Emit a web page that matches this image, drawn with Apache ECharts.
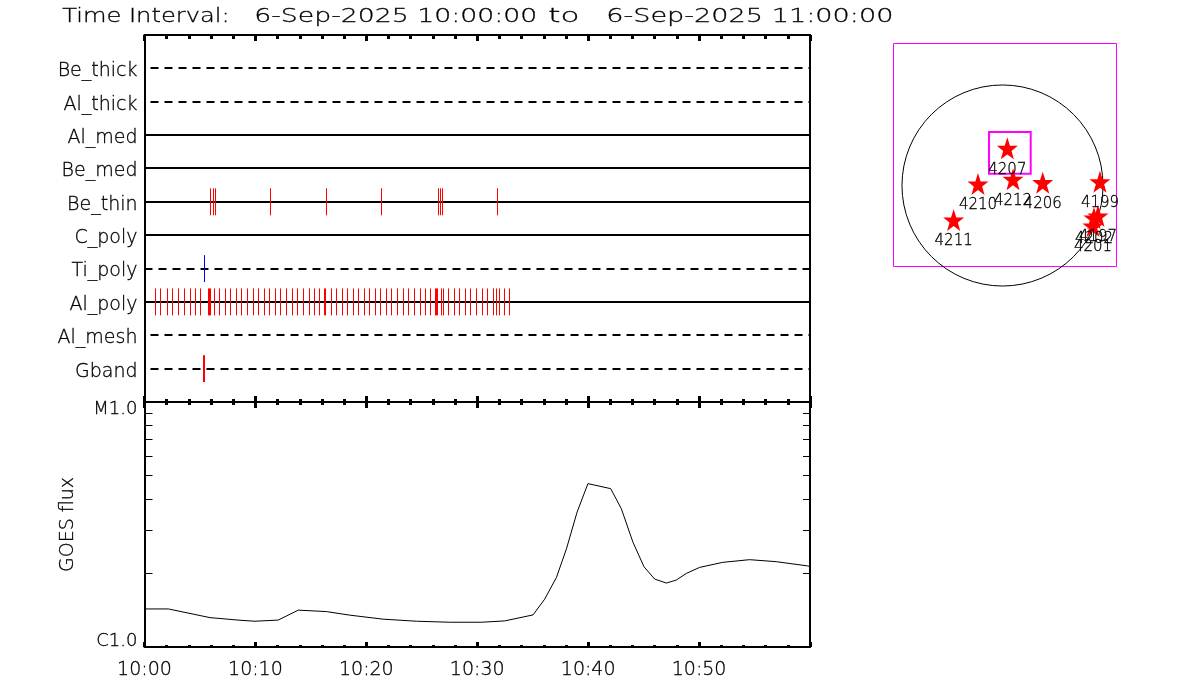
<!DOCTYPE html>
<html><head><meta charset="utf-8">
<style>html,body{margin:0;padding:0;background:#fff;overflow:hidden}#c{width:1200px;height:700px}</style>
<script src="https://cdn.jsdelivr.net/npm/echarts@6/dist/echarts.min.js"></script>
</head><body><div id="c"></div>
<script>
const titleParts = ['Time Interval:','6-Sep-2025 10:00:00','to','6-Sep-2025 11:00:00'];
const channels = ['Gband','Al_mesh','Al_poly','Ti_poly','C_poly','Be_thin','Be_med','Al_med','Al_thick','Be_thick'];
const dashedChannels = ['Gband','Al_mesh','Ti_poly','Al_thick','Be_thick'];
const timeTickLabels = ['10:00','10:10','10:20','10:30','10:40','10:50'];

// event times, minutes after 10:00
const beThinEvents = [5.96,6.20,6.38,11.33,16.38,21.33,26.47,26.65,26.83,31.78];
const tiPolyEvents = [5.39];
const gbandEvents = [5.33];
const alPolyEvents = [0.97,1.42,2.05,2.50,3.05,3.59,4.13,4.58,5.03,5.75,5.84,5.93,6.29,6.74,7.28,7.73,8.27,8.72,9.26,9.80,10.25,10.79,11.24,11.78,12.23,12.77,13.32,13.77,14.31,14.82,15.30,15.75,16.20,16.29,16.83,17.28,17.82,18.27,18.81,19.26,19.80,20.25,20.79,21.24,21.78,22.23,22.77,23.32,23.77,24.31,24.85,25.30,25.75,26.23,26.32,26.41,26.74,26.92,27.37,27.91,28.36,28.90,29.35,29.89,30.43,30.88,31.42,31.69,31.96,32.41,32.86];

// GOES flux, minutes and units of C1.0
const goesMinutes = [0,2.16,5.9,8.6,9.95,12.05,13.87,16.41,18.51,21.51,24.52,27.52,30.38,32.48,35.03,36.08,37.14,38.04,39.0,39.98,42.03,42.99,44.04,45.03,45.99,47.05,47.95,48.85,50.05,52.14,54.55,56.95,59.8,60];
const goesFlux = [1.43,1.43,1.318,1.286,1.274,1.288,1.414,1.395,1.349,1.299,1.274,1.262,1.262,1.278,1.352,1.568,1.923,2.514,3.551,4.643,4.429,3.668,2.676,2.127,1.894,1.824,1.876,1.997,2.113,2.216,2.272,2.230,2.142,2.13];
const logMinorTicks = [2,3,4,5,6,7,8,9];

// active regions, arcsec from disc centre
const regionNames = ['4207','4212','4210','4206','4199','4211','4197','4202','4201'];
const regionX = [46,100,-233,382,926,-464,907,869,860];
const regionY = [353,59,14,27,36,-328,-290,-309,-385];
const discRadius = 955;
const zoomBox = [-128,508,268,112];

const INK = '#000', RED = '#ff0000', BLUE = '#0000ff', MAGENTA = '#ff00ff';
const FONT = '"DejaVu Sans"';
const THIN = {fontFamily:FONT, fontWeight:200, color:INK, textBorderColor:INK, textBorderWidth:0.3};
const starPath = 'path://M50 0 L62 36 L98 36 L69 58 L80 94 L50 73 L20 94 L31 58 L2 36 L38 36 Z';
const halfHeight = 0.404;
const titleLeft = [62,254,548,606];
const titleScale = [1.208,1.336,1.55,1.355];

const eventStyle = [
  {name:'Be_thin', times:beThinEvents, color:RED, width:1},
  {name:'Ti_poly', times:tiPolyEvents, color:BLUE, width:1},
  {name:'Al_poly', times:alPolyEvents, color:RED, width:1},
  {name:'Gband', times:gbandEvents, color:RED, width:2}
];
const rowOf = n => channels.indexOf(n) + 1;

const chart = echarts.init(document.getElementById('c'), null, {renderer:'canvas'});

const timeAxis = (gridIndex, position, extra) => Object.assign({
  type:'value', gridIndex, position, min:0, max:60, interval:10,
  axisLine:{show:true, onZero:false, lineStyle:{color:INK, width:2}},
  axisTick:{show:true, inside:true, length:6, lineStyle:{color:INK, width:3}},
  minorTick:{show:true, splitNumber:5, length:3, lineStyle:{color:INK, width:3}},
  splitLine:{show:false}, axisLabel:{show:false}
}, extra || {});

const sideAxis = (gridIndex, position, extra) => Object.assign({
  type:'value', gridIndex, position,
  axisLine:{show:true, onZero:false, lineStyle:{color:INK, width:2}},
  axisTick:{show:false}, splitLine:{show:false}, axisLabel:{show:false}
}, extra);

const series = [];
channels.forEach((name, i) => {
  const dashed = dashedChannels.includes(name);
  series.push({
    type:'custom', name, xAxisIndex:0, yAxisIndex:0, silent:true, z:2, clip:false,
    data:[[0,i+1,60]],
    renderItem:(p, api) => {
      const a = api.coord([api.value(0), api.value(1)]);
      const b = api.coord([api.value(2), api.value(1)]);
      const y = Math.round(a[1]);
      const style = {stroke:INK, lineWidth:2, fill:null};
      if (dashed) { style.lineDash = [8,6]; style.lineDashOffset = name === 'Ti_poly' ? 0 : 8; }
      return {type:'line', shape:{x1:a[0],y1:y,x2:b[0],y2:y}, style};
    }
  });
});
eventStyle.forEach(ev => {
  series.push({
    type:'custom', name:ev.name+' events', xAxisIndex:0, yAxisIndex:0, silent:true, z:3, clip:false,
    data:ev.times.map(t => [t, rowOf(ev.name)]),
    renderItem:(p, api) => {
      const a = api.coord([api.value(0), api.value(1)+halfHeight]);
      const b = api.coord([api.value(0), api.value(1)-halfHeight]);
      const x = ev.width === 1 ? Math.floor(a[0]+0.25)+0.5 : Math.round(a[0]);
      return {type:'line', shape:{x1:x,y1:a[1],x2:x,y2:b[1]}, style:{stroke:ev.color, lineWidth:ev.width, fill:null}};
    }
  });
});
series.push({
  type:'line', name:'GOES flux', xAxisIndex:2, yAxisIndex:2, showSymbol:false, symbol:'none', silent:true, z:3,
  data:goesMinutes.map((t,i) => [t, goesFlux[i]]), lineStyle:{color:INK, width:1}
});
series.push({
  type:'custom', name:'log ticks', xAxisIndex:2, yAxisIndex:2, silent:true, z:3, clip:false,
  data:logMinorTicks.map(v => [0, v]),
  renderItem:(p, api) => {
    const l = api.coord([0, api.value(1)]), r = api.coord([60, api.value(1)]);
    const y = Math.floor(l[1])+0.5;
    const st = {stroke:INK, lineWidth:1, fill:null};
    return {type:'group', children:[
      {type:'line', shape:{x1:l[0],y1:y,x2:l[0]+8,y2:y}, style:st},
      {type:'line', shape:{x1:r[0],y1:y,x2:r[0]-7,y2:y}, style:st}
    ]};
  }
});
series.push({
  type:'custom', name:'disc', xAxisIndex:4, yAxisIndex:4, silent:true, z:2, clip:false,
  data:[[0,0,discRadius]],
  renderItem:(p, api) => {
    const c = api.coord([api.value(0), api.value(1)]);
    const e = api.coord([api.value(2), 0]);
    return {type:'circle', shape:{cx:c[0],cy:c[1],r:e[0]-c[0]}, style:{stroke:INK, lineWidth:1, fill:null}};
  }
});
series.push({
  type:'custom', name:'zoom box', xAxisIndex:4, yAxisIndex:4, silent:true, z:3, clip:false,
  data:[zoomBox],
  renderItem:(p, api) => {
    const a = api.coord([api.value(0), api.value(1)]);
    const b = api.coord([api.value(2), api.value(3)]);
    return {type:'rect', shape:{x:a[0],y:a[1],width:b[0]-a[0],height:b[1]-a[1]}, style:{stroke:MAGENTA, lineWidth:2, fill:null}};
  }
});
series.push({
  type:'scatter', name:'regions', xAxisIndex:4, yAxisIndex:4, silent:true, z:4, clip:false,
  symbol:starPath, symbolSize:[21,22], itemStyle:{color:RED, opacity:1},
  data:regionNames.map((n,i) => ({name:n, value:[regionX[i], regionY[i]]})),
  label:Object.assign({show:true, position:'bottom', distance:3, formatter:'{b}', fontSize:15}, THIN)
});

chart.setOption({
  animation:false,
  backgroundColor:'#fff',
  graphic:titleParts.map((text,i) => ({
    type:'text', left:titleLeft[i], top:7, scaleX:titleScale[i],
    style:{text, fill:INK, stroke:INK, lineWidth:0.3, font:'200 20px '+FONT}
  })),
  grid:[
    {left:144.5, width:665.5, top:35, height:367},
    {left:144.5, width:665.5, top:402, height:245},
    {left:893.5, width:223, top:43.5, height:223, show:true, borderColor:MAGENTA, borderWidth:1, backgroundColor:'transparent'}
  ],
  xAxis:[
    timeAxis(0,'bottom'),
    timeAxis(0,'top',{axisTick:{show:true, inside:true, length:6, lineStyle:{color:INK,width:3}}, minorTick:{show:true, splitNumber:5, length:4, lineStyle:{color:INK,width:3}}}),
    timeAxis(1,'bottom',{
      axisTick:{show:true, inside:true, length:5, lineStyle:{color:INK,width:3}},
      minorTick:{show:true, splitNumber:5, length:2, lineStyle:{color:INK,width:3}},
      axisLabel:Object.assign({show:true, margin:14, fontSize:19,
        formatter:v => timeTickLabels[v/10] || ''}, THIN)
    }),
    timeAxis(1,'top'),
    {type:'value', gridIndex:2, min:-1035.5, max:1083, show:false}
  ],
  yAxis:[
    sideAxis(0,'left',{min:0, max:11, interval:1,
      axisLabel:Object.assign({show:true, margin:7, fontSize:19,
        formatter:v => channels[v-1] ? '{c|'+channels[v-1]+'}' : '',
        rich:{c:Object.assign({fontSize:19, padding:[6,0,0,0]}, THIN)}}, THIN)}),
    sideAxis(0,'right',{min:0, max:11, interval:1}),
    sideAxis(1,'left',{type:'log', logBase:10, min:1, max:10,
      name:'GOES flux', nameLocation:'middle', nameGap:67, nameRotate:90,
      nameTextStyle:Object.assign({fontSize:19}, THIN),
      axisLabel:Object.assign({show:true, margin:7, fontSize:18,
        formatter:v => v === 1 ? '{lo|C1.0}' : (v === 10 ? '{hi|M1.0}' : ''),
        rich:{
          hi:Object.assign({fontSize:18, padding:[14,0,0,0]}, THIN),
          lo:Object.assign({fontSize:18, padding:[0,0,12,0]}, THIN)
        }}, THIN)}),
    sideAxis(1,'right',{type:'log', logBase:10, min:1, max:10}),
    {type:'value', gridIndex:2, min:-769.5, max:1349, show:false}
  ],
  series
});
</script></body></html>
